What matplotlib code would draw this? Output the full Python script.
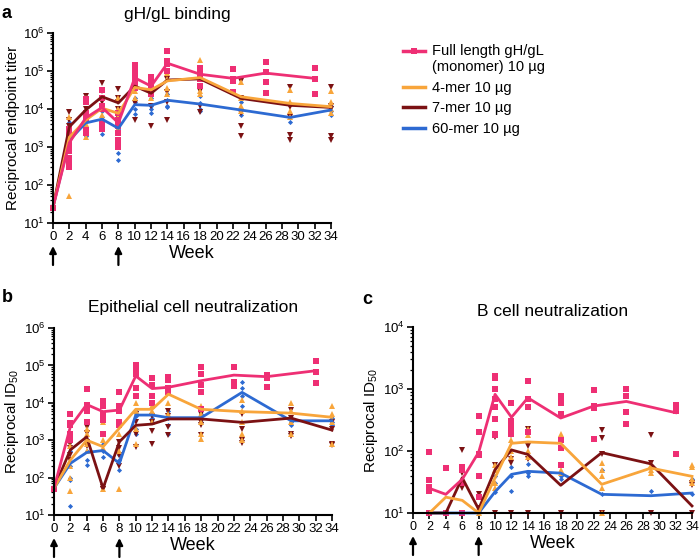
import numpy as np
import matplotlib.pyplot as plt
from matplotlib.lines import Line2D
from matplotlib.legend_handler import HandlerLine2D
from matplotlib.ticker import NullFormatter

plt.rcParams['font.family'] = ['Liberation Sans', 'DejaVu Sans']

# sampling weeks
weeks_main = [0, 2, 4, 6, 8, 10, 12, 14, 18, 23, 29, 34]
weeks_full = [0, 2, 4, 6, 8, 10, 12, 14, 18, 22, 26, 32]

# ---- panel a: gH/gL binding (lines) ----
a_full_line = [26, 1300, 5800, 11000, 4300, 66000, 40000, 160000, 82000, 64000, 88000, 64000]
a_4mer_line = [26, 1800, 5100, 10500, 7700, 37000, 32000, 55000, 67000, 21000, 14000, 11500]
a_7mer_line = [26, 3400, 9400, 21000, 14500, 40000, 26000, 58000, 62000, 19000, 12500, 11000]
a_60mer_line = [26, 1500, 4300, 5400, 3100, 13000, 12500, 17000, 13500, 9400, 6000, 9400]

# panel a individual animals
a_full_pts = [[25], [3000, 2200, 1500, 1100, 800, 500, 350, 300], [18000, 15000, 8000, 6000, 5000, 2800, 2300],
              [32000, 20000, 12000, 10000, 4500, 3500, 3000], [8000, 5000, 3500, 2400, 1500, 1300, 1100, 1000],
              [140000, 120000, 100000, 80000, 60000, 45000, 35000], [70000, 55000, 45000, 35000, 30000, 25000],
              [330000, 180000, 150000, 100000], [120000, 95000, 80000, 60000, 40000],
              [110000, 60000, 55000, 28000], [170000, 95000, 50000, 27000], [120000, 60000, 25000]]
a_4mer_pts = [[25], [6000, 3000, 1500, 800, 50], [20000, 8000, 4000, 2500, 1800], [20000, 12000, 7000, 4000],
              [20000, 10000, 6000, 3000], [70000, 45000, 30000, 20000], [50000, 35000, 20000],
              [90000, 60000, 35000, 25000], [190000, 120000, 60000, 30000, 25000], [50000, 20000, 12000, 9000],
              [32000, 15000, 9000, 6000], [30000, 15000, 10000, 8000]]
a_7mer_pts = [[25], [8500, 5000, 3500, 2500, 2000], [22000, 17000, 10000, 8000, 5000], [48000, 30000, 20000, 15000],
              [33000, 20000, 15000, 10000, 6000], [50000, 40000, 14000, 5000], [50000, 30000, 12000, 3500],
              [100000, 60000, 28000, 15000, 5000], [95000, 70000, 30000, 12000, 8500],
              [55000, 20000, 8000, 3600, 2000], [38000, 11000, 6000, 2100, 1500], [38000, 12000, 10000, 2000, 1500]]
a_60mer_pts = [[25], [4500, 2500, 1000, 400, 300], [8000, 5000, 3000, 2000], [9000, 6000, 3500, 2200],
               [6000, 3000, 700, 450], [20000, 15000, 10000, 7500], [20000, 12000, 10000, 8000],
               [25000, 17000, 12000, 11000], [22000, 14000, 10000, 9000], [15000, 10000, 7000], [6000, 4500],
               [12000, 9000, 7000]]

# ---- panel b: epithelial cell neutralization ----
b_full_line = [52, 2300, 9000, 5800, 6400, 52000, 24000, 26000, 39000, 55000, 50000, 72000]
b_4mer_line = [52, 295, 1000, 670, 2100, 6700, 6700, 17000, 6700, 5800, 5300, 4100]
b_7mer_line = [52, 550, 1230, 52, 910, 2500, 2700, 3700, 3700, 3000, 3900, 1860]
b_60mer_line = [52, 240, 470, 530, 240, 4700, 4700, 4000, 4000, 19000, 3300, 3300]

b_full_pts = [[50], [5000, 2800, 2500, 1500, 1000], [24000, 9000, 6000, 3000], [11000, 8000, 5000, 3500, 1500],
              [20000, 8000, 6000, 3000, 2500], [100000, 80000, 60000, 25000, 15000], [45000, 30000, 15000, 10000],
              [50000, 40000, 25000, 20000], [90000, 60000, 30000, 20000, 7000], [90000, 35000, 28000],
              [55000, 45000, 27000], [130000, 65000, 33000]]
b_4mer_pts = [[50], [1000, 700, 200, 100, 45], [2000, 1500, 800, 500], [3000, 1000, 600, 50],
              [6000, 3000, 1500, 500, 50], [15000, 10000, 6000, 2000, 800], [15000, 8000, 6000, 3000],
              [45000, 20000, 10000, 5000], [8000, 5000, 3000, 1500, 1100], [12000, 6000, 3000, 1500, 1000],
              [10000, 6000, 3000, 1500], [8000, 5000, 3000, 800]]
b_7mer_pts = [[50], [800, 600, 400, 300], [2200, 1600, 900, 700], [50, 50, 55], [900, 600, 400, 200],
              [5000, 3000, 1500, 650], [4500, 3000, 1800, 800], [6000, 4500, 2300, 1400], [5000, 3000, 2500, 1400],
              [5000, 2000, 1000, 850], [6500, 4000, 1500, 1300], [3000, 2000, 800, 750]]
b_60mer_pts = [[50], [500, 200, 100, 85, 17], [800, 500, 300, 220], [800, 500, 350], [400, 300, 160],
               [6000, 4500, 2000, 1500], [5000, 4000, 3000], [6000, 4000, 2500, 1500], [7000, 5000, 3000],
               [35000, 25000, 15000, 8000], [4000, 3000, 2500], [4000, 3000, 2500]]

# ---- panel c: B cell neutralization (no week 0) ----
c_full_line = [25, 20, 35, 95, 820, 350, 720, 340, 530, 630, 415]
c_4mer_line = [10, 18, 16, 10, 37, 133, 140, 133, 29, 53, 39]
c_7mer_line = [10, 10, 37, 11.5, 50, 104, 88, 28, 94, 62, 13]
c_60mer_line = [10, 10, 10, 10, 22, 42, 47, 44, 20, 19, 21]

c_full_pts = [[97, 34, 26, 23, 10], [53, 10], [55, 50, 30, 10], [370, 200, 90, 85, 40, 18],
              [1600, 1500, 1000, 700, 520, 330, 190, 180], [600, 300, 250, 220, 190], [1350, 700, 520, 200],
              [780, 700, 600, 400, 150, 110, 60], [950, 530, 500, 155], [1000, 780, 430, 270], [560, 500, 450, 90]]
c_4mer_pts = [[10], [10], [30], [10, 12], [60, 50, 30, 25], [150, 100, 80], [230, 180, 100, 80], [185, 50, 45],
              [65, 50, 40, 25, 10], [60, 50, 45], [60, 55, 35, 30]]
c_7mer_pts = [[10], [10], [105, 45, 25], [20, 12, 10], [170, 60, 10], [190, 180, 75, 65, 10], [230, 120, 75, 10],
              [60, 10], [220, 160, 90, 10], [180, 65, 10], [30, 28, 10]]
c_60mer_pts = [[10], [10], [10], [10], [40, 30, 22], [55, 40, 23], [62, 45, 40], [40, 35], [50, 20], [23],
               [35, 20]]

labels = ['Full length gH/gL\n(monomer) 10 µg', '4-mer 10 µg', '7-mer 10 µg', '60-mer 10 µg']
pink, orange, dred, blue = '#EE2F74', '#F8A53B', '#7B1113', '#2D6AD2'

fig = plt.figure(figsize=(7.0, 5.59), dpi=100)
ax_a = fig.add_axes([53 / 700, 1 - 223 / 559, 278 / 700, 190 / 559])
ax_b = fig.add_axes([54 / 700, 1 - 515 / 559, 278 / 700, 187 / 559])
ax_c = fig.add_axes([413 / 700, 1 - 513 / 559, 279 / 700, 186 / 559])


def draw_points(ax, weeks, pts, color, marker, ms):
    xs, ys = [], []
    for w, vals in zip(weeks, pts):
        xs += [w] * len(vals)
        ys += vals
    ax.plot(xs, ys, linestyle='none', marker=marker, ms=ms, mew=0, color=color, clip_on=False, zorder=2)


def draw_panel(ax, wm, wf, full_l, l4, l7, l60, full_p, p4, p7, p60):
    draw_points(ax, wm, p60, blue, 'D', 2.6)
    draw_points(ax, wm, p7, dred, 'v', 3.8)
    draw_points(ax, wm, p4, orange, '^', 3.8)
    draw_points(ax, wf, full_p, pink, 's', 3.8)
    ax.plot(wm, l60, color=blue, lw=2, clip_on=False, zorder=3)
    ax.plot(wm, l7, color=dred, lw=2, clip_on=False, zorder=3.1)
    ax.plot(wm, l4, color=orange, lw=2, clip_on=False, zorder=3.2)
    ax.plot(wf, full_l, color=pink, lw=2, clip_on=False, zorder=3.3)


def style(ax, ylim, ylabel, h_px, xsize=9.5):
    ax.set_yscale('log')
    ax.set_ylim(ylim)
    ax.set_xlim(0, 34)
    ax.set_xticks(range(0, 35, 2))
    ax.yaxis.set_minor_formatter(NullFormatter())
    for s in ['top', 'right']:
        ax.spines[s].set_visible(False)
    for s in ['left', 'bottom']:
        ax.spines[s].set_linewidth(1.5)
        ax.spines[s].set_zorder(3.5)
    ax.tick_params(which='major', direction='out', length=4, width=1.2, labelsize=9.5, pad=2)
    ax.tick_params(axis='x', labelsize=xsize)
    ax.tick_params(which='minor', direction='out', length=2.5, width=0.9)
    ax.set_xlabel('Week', fontsize=13, labelpad=1)
    ax.set_ylabel(ylabel, fontsize=11, labelpad=2)
    tr = ax.get_xaxis_transform()
    for wk in (0, 8):
        ax.annotate('', xy=(wk, -23 / h_px), xycoords=tr, xytext=(wk, -42 / h_px), textcoords=tr,
                    arrowprops=dict(arrowstyle='-|>', color='black', lw=1.6, mutation_scale=10,
                                    shrinkA=0, shrinkB=0), annotation_clip=False)


draw_panel(ax_a, weeks_main, weeks_full, a_full_line, a_4mer_line, a_7mer_line, a_60mer_line,
           a_full_pts, a_4mer_pts, a_7mer_pts, a_60mer_pts)
draw_panel(ax_b, weeks_main, weeks_full, b_full_line, b_4mer_line, b_7mer_line, b_60mer_line,
           b_full_pts, b_4mer_pts, b_7mer_pts, b_60mer_pts)
draw_panel(ax_c, weeks_main[1:], weeks_full[1:], c_full_line, c_4mer_line, c_7mer_line, c_60mer_line,
           c_full_pts, c_4mer_pts, c_7mer_pts, c_60mer_pts)

style(ax_a, (10, 1e6), 'Reciprocal endpoint titer', 190)
style(ax_b, (10, 1e6), r'Reciprocal ID$_{\mathdefault{50}}$', 187)
style(ax_c, (10, 1e4), r'Reciprocal ID$_{\mathdefault{50}}$', 186, xsize=9)

ax_a.text(0.446, 1.10, 'gH/gL binding', transform=ax_a.transAxes, ha='center', va='center', fontsize=12.5)
ax_b.text(0.5, 1.107, 'Epithelial cell neutralization', transform=ax_b.transAxes, ha='center', va='center',
          fontsize=12.5)
ax_c.text(0.5, 1.086, 'B cell neutralization', transform=ax_c.transAxes, ha='center', va='center',
          fontsize=12.5)

fig.text(7 / 700, 1 - 13 / 559, 'a', fontsize=13, fontweight='bold', ha='center', va='center')
fig.text(7 / 700, 1 - 298 / 559, 'b', fontsize=13, fontweight='bold', ha='center', va='center')
fig.text(367 / 700, 1 - 300 / 559, 'c', fontsize=13, fontweight='bold', ha='center', va='center')


# legend: put the pink handle beside the first line of its two-line label
class FirstLineHandler(HandlerLine2D):
    def create_artists(self, legend, orig_handle, xdescent, ydescent, width, height, fontsize, trans):
        arts = super().create_artists(legend, orig_handle, xdescent, ydescent, width, height, fontsize, trans)
        for a in arts:
            a.set_ydata(np.asarray(a.get_ydata()) + 0.6 * fontsize)
        return arts


handles = [Line2D([], [], color=pink, lw=2.5, marker='s', ms=4, mew=0),
           Line2D([], [], color=orange, lw=2.5),
           Line2D([], [], color=dred, lw=2.5),
           Line2D([], [], color=blue, lw=2.5)]
fig.legend(handles, labels, loc='upper left', bbox_to_anchor=(403 / 700, 1 - 44 / 559), frameon=False,
           fontsize=10.5, handlelength=1.5, handletextpad=0.5, labelspacing=0.45, borderpad=0,
           borderaxespad=0, handler_map={handles[0]: FirstLineHandler()})

fig.savefig('out.png', dpi=100)
